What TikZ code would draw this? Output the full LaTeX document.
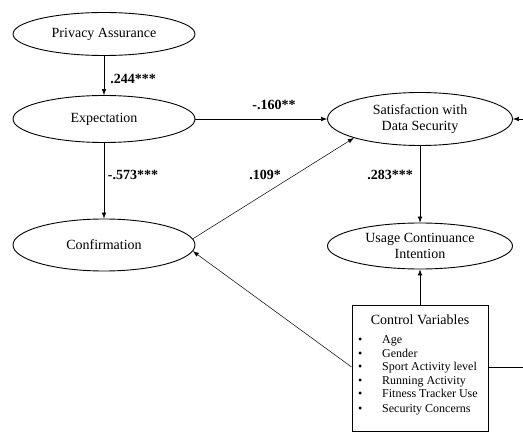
\documentclass[tikz,border=0pt]{standalone}
\usepackage{fontspec}
\setmainfont{Liberation Serif}
\usetikzlibrary{shapes.geometric,arrows.meta}
\begin{document}
\begin{tikzpicture}[x=1pt,y=1pt,
  construct/.style={ellipse,draw,line width=0.9pt,inner sep=0pt,align=center,
    font=\fontsize{14}{15.5}\selectfont},
  path/.style={draw,line width=0.5pt,-{Latex[length=6pt,width=4.5pt]}},
  plainline/.style={draw,line width=0.5pt},
  coef/.style={font=\fontsize{14}{16}\selectfont\bfseries,inner sep=0pt}]
\useasboundingbox (0,0) rectangle (523,-433);
\node[construct,minimum width=182pt,minimum height=43pt] (pa) at (104,-34) {Privacy Assurance};
\node[construct,minimum width=182pt,minimum height=47pt] (ex) at (104,-119) {Expectation};
\node[construct,minimum width=182pt,minimum height=52pt] (co) at (104,-245) {Confirmation};
\node[construct,minimum width=185pt,minimum height=53pt] (sa) at (420,-119) {Satisfaction with\\Data Security};
\node[construct,minimum width=185pt,minimum height=46pt] (uc) at (420,-246) {Usage Continuance\\Intention};
\node[draw,line width=0.9pt,minimum width=136pt,minimum height=126pt,inner sep=0pt] (cv) at (420,-368) {};
\node[anchor=base,inner sep=0pt,font=\fontsize{14}{16}\selectfont] (cvt) at (420,-325) {Control Variables};
\node[anchor=base west,inner sep=0pt,font=\fontsize{12}{13.5}\selectfont] (cvl) at (358,-344)
  {\begin{tabular}[t]{@{}p{24pt}@{}l@{}}
  • & Age\\
  • & Gender\\
  • & Sport Activity level\\
  • & Running Activity\\
  • & Fitness Tracker Use\\[1.5pt]
  • & Security Concerns
  \end{tabular}};
\coordinate (outr) at (523,-367);
\coordinate (inr) at (523,-119);
\path[path] (pa) -- (ex);
\path[path] (ex) -- (co);
\path[path] (ex) -- (sa);
\path[path] (co.4) -- (sa.196);
\path[path] (cv.west |- outr) -- (co.-4);
\path[path] (sa) -- (uc);
\path[path] (cv) -- (uc);
\path[plainline] (cv.east |- outr) -- (outr);
\path[path] (inr) -- (sa.east);
\node[coef] (l1) at (133,-79) {.244***};
\node[coef] (l2) at (133,-175) {-.573***};
\node[coef] (l3) at (274,-105) {-.160**};
\node[coef] (l4) at (265,-175) {.109*};
\node[coef] (l5) at (390,-175) {.283***};
\end{tikzpicture}
\end{document}
